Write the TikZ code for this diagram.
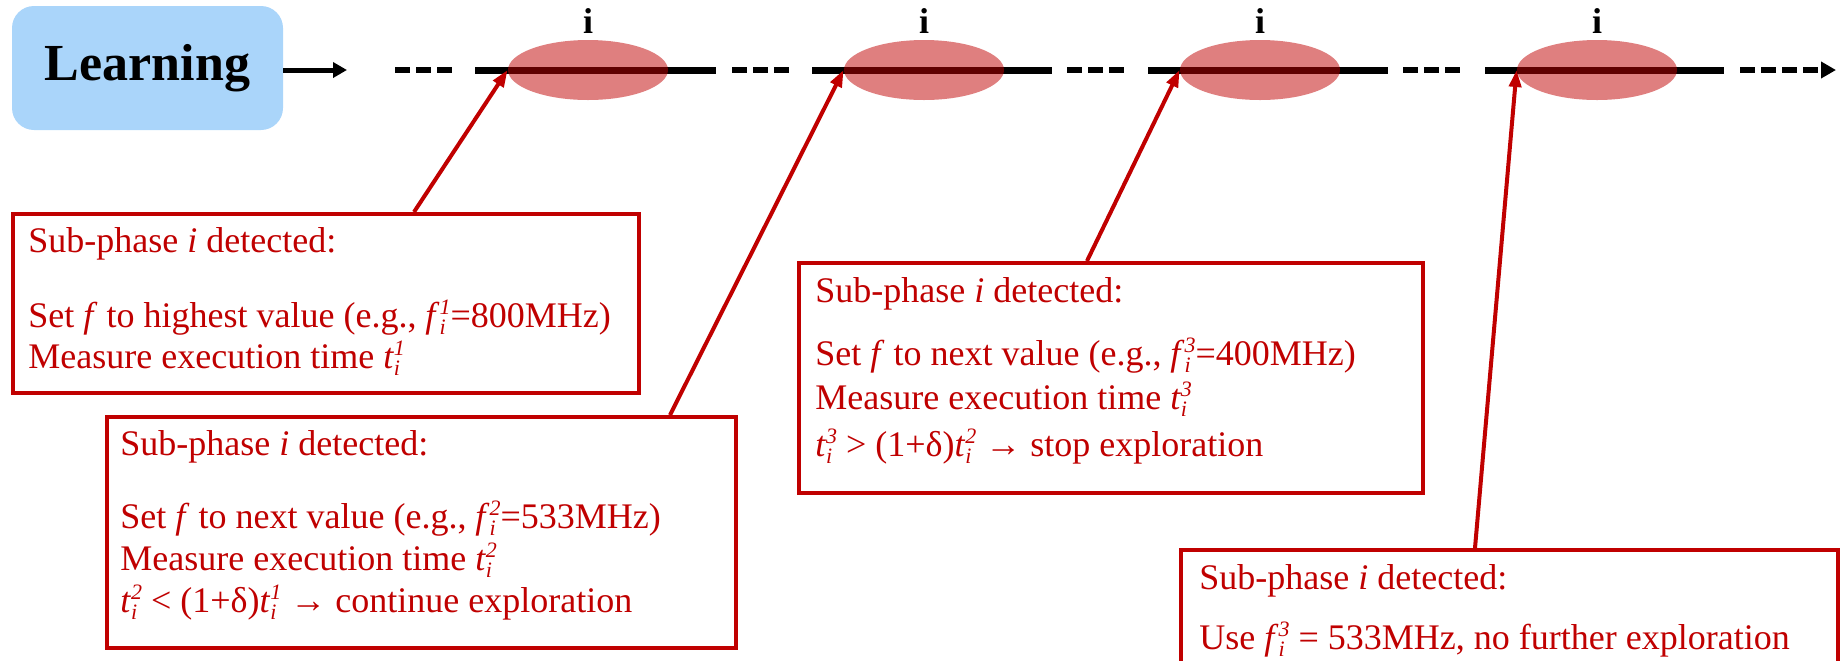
\documentclass[tikz,border=0pt]{standalone}
\usepackage{fontspec}
\setmainfont{Liberation Serif}
\usetikzlibrary{shapes.geometric,arrows.meta,calc}
\definecolor{dred}{HTML}{C00000}
\definecolor{lblue}{HTML}{AAD5FA}
% italic symbol with stacked subscript i and superscript
\newcommand\scriptsz{\fontsize{11}{11}\selectfont\itshape}
\newcommand\ssi[2]{\textit{#1}\makebox[0pt][l]{\raisebox{-3.6pt}{\scriptsz i}}\raisebox{6.4pt}{\scriptsz #2}}
\begin{document}
\begin{tikzpicture}[x=0.5pt,y=-0.5pt,
  timeline/.style={line width=3.5pt,black},
  gapline/.style={line width=3pt,black,dash pattern=on 7.5pt off 3pt},
  phase/.style={ellipse,fill=dred,fill opacity=0.5,draw=none,
    minimum width=80pt,minimum height=30pt,inner sep=0pt},
  plabel/.style={font=\bfseries\fontsize{18}{18}\selectfont,inner sep=0pt},
  infobox/.style={rectangle,draw=dred,line width=2pt,fill=white,
    inner sep=0pt,anchor=north west},
  info/.style={text=dred,font=\fontsize{18}{22}\selectfont,
    anchor=base west,inner sep=0pt},
  pointer/.style={dred,line width=2pt,-{Triangle[length=8.5pt,width=6pt]}}]

\useasboundingbox (0,0) rectangle (1843,660);
\clip (0,0) rectangle (1843,660);

% learning stage
\node[rectangle,rounded corners=11pt,fill=lblue,minimum width=135.5pt,
  minimum height=62pt,inner sep=0pt,font=\bfseries\fontsize{26}{26}\selectfont]
  (learn) at (147.5,68) {Learning};
\coordinate (lend) at (347,70);
\draw[line width=2.5pt,-{Triangle[length=7pt,width=7.5pt]}] (learn.east|-lend) -- (lend);

% time line
\coordinate (g0a) at (395,70);  \coordinate (g0b) at (453,70);
\coordinate (s1a) at (475,70);  \coordinate (s1b) at (716,70);
\coordinate (g1a) at (732,70);  \coordinate (g1b) at (791,70);
\coordinate (s2a) at (812,70);  \coordinate (s2b) at (1052,70);
\coordinate (g2a) at (1067,70); \coordinate (g2b) at (1128,70);
\coordinate (s3a) at (1148,70); \coordinate (s3b) at (1388,70);
\coordinate (g3a) at (1403,70); \coordinate (g3b) at (1464,70);
\coordinate (s4a) at (1485,70); \coordinate (s4b) at (1724,70);
\coordinate (g4a) at (1740,70); \coordinate (g4b) at (1836,70);

\draw[gapline] (g0a) -- (g0b);
\draw[gapline] (g1a) -- (g1b);
\draw[gapline] (g2a) -- (g2b);
\draw[gapline] (g3a) -- (g3b);
\draw[gapline,-{Triangle[length=7.5pt,width=8pt]}] (g4a) -- (g4b);
\draw[timeline] (s1a) -- (s1b);
\draw[timeline] (s2a) -- (s2b);
\draw[timeline] (s3a) -- (s3b);
\draw[timeline] (s4a) -- (s4b);

% occurrences of sub-phase i
\node[phase] (e1) at (588,70) {};
\node[phase] (e2) at (924,70) {};
\node[phase] (e3) at (1260,70) {};
\node[phase] (e4) at (1597,70) {};
\node[plabel] (l1) at (588,21) {i};
\node[plabel] (l2) at (924,21) {i};
\node[plabel] (l3) at (1260,21) {i};
\node[plabel] (l4) at (1597,21) {i};

% callout frames
\node[infobox,minimum width=313pt,minimum height=89.5pt] (b1) at (11,212) {};
\node[infobox,minimum width=314.5pt,minimum height=115.5pt] (b2) at (105,415) {};
\node[infobox,minimum width=312pt,minimum height=115pt] (b3) at (797,261) {};
\node[infobox,minimum width=328.5pt,minimum height=65pt] (b4) at (1179,548) {};

% pointers from the frames to the occurrences
\coordinate (p1) at ($(b1.north west)+(403,0)$);
\coordinate (p2) at ($(b2.north west)+(565,0)$);
\coordinate (p3) at ($(b3.north west)+(290,0)$);
\coordinate (p4) at ($(b4.north west)+(296,0)$);
\draw[pointer] (p1) -- (e1.west);
\draw[pointer] (p2) -- (e2.west);
\draw[pointer] (p3) -- (e3.west);
\draw[pointer] (p4) -- (e4.west);

% first visit
\node[info] (t1a) at (28,252) {Sub-phase \textit{i} detected:};
\node[info] (t1b) at (28,327) {Set \textit{f} to highest value (e.g., \ssi{f}{1}=800MHz)};
\node[info] (t1c) at (28,368) {Measure execution time \ssi{t}{1}};

% second visit
\node[info] (t2a) at (120,455) {Sub-phase \textit{i} detected:};
\node[info] (t2b) at (120,528) {Set \textit{f} to next value (e.g., \ssi{f}{2}=533MHz)};
\node[info] (t2c) at (120,570) {Measure execution time \ssi{t}{2}};
\node[info] (t2d) at (120,612) {\ssi{t}{2} < (1+δ)\ssi{t}{1} → continue exploration};

% third visit
\node[info] (t3a) at (815,302) {Sub-phase \textit{i} detected:};
\node[info] (t3b) at (815,365) {Set \textit{f} to next value (e.g., \ssi{f}{3}=400MHz)};
\node[info] (t3c) at (815,409) {Measure execution time \ssi{t}{3}};
\node[info] (t3d) at (815,456) {\ssi{t}{3} > (1+δ)\ssi{t}{2} → stop exploration};

% fourth visit
\node[info] (t4a) at (1199,589) {Sub-phase \textit{i} detected:};
\node[info] (t4b) at (1199,649) {Use \ssi{f}{3} = 533MHz, no further exploration};
\end{tikzpicture}
\end{document}
